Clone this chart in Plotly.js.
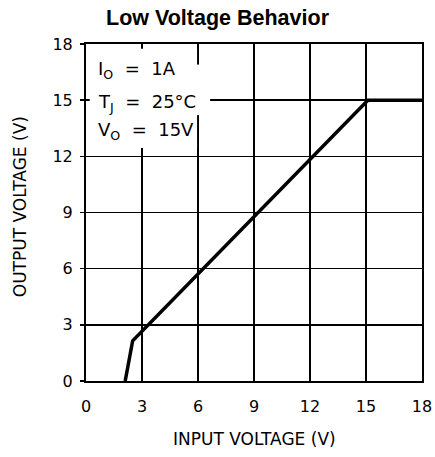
<!DOCTYPE html>
<html>
<head>
<script src="https://cdn.plot.ly/plotly-3.0.1.min.js"></script>
<style>html,body{margin:0;padding:0;background:#fff;}#chart{width:435px;height:457px;}</style>
</head>
<body>
<div id="chart"></div>
<script>
var inputVoltage = [2.1, 2.5, 15.1, 18];
var outputVoltage = [0, 2.15, 15, 15];
var tickVals = [0, 3, 6, 9, 12, 15, 18];
var tickText = ["0", "3", "6", "9", "12", "15", "18"];
var conditionLines = ["I<sub>O</sub>  =  1A", "T<sub>J</sub>  =  25°C", "V<sub>O</sub>  =  15V"];

var font = "DejaVu Sans, Liberation Sans, sans-serif";
var trace = {
  x: inputVoltage, y: outputVoltage, mode: "lines", type: "scatter",
  line: {color: "#000", width: 3.5}, hoverinfo: "skip", showlegend: false
};
var axisCommon = {
  range: [0, 18], tickvals: tickVals, ticktext: tickText,
  showgrid: true, gridcolor: "#000", gridwidth: 1.5,
  showline: true, linecolor: "#000", linewidth: 2, mirror: true,
  zeroline: false, fixedrange: true,
  tickfont: {family: font, size: 16, color: "#000"}
};
var condY = [0.922, 0.826, 0.742];
var annotations = conditionLines.map(function (t, i) {
  return {
    xref: "paper", yref: "paper", x: 0.03, y: condY[i], xanchor: "left", yanchor: "middle",
    align: "left", showarrow: false, text: t,
    font: {family: font, size: 18, color: "#000"}
  };
});
annotations.push({
  xref: "paper", yref: "paper", x: 0.5, y: -0.173, xanchor: "center", yanchor: "middle",
  showarrow: false, text: "INPUT VOLTAGE (V)", font: {family: font, size: 17, color: "#000"}
});
annotations.push({
  xref: "paper", yref: "paper", x: -0.196, y: 0.516, xanchor: "center", yanchor: "middle",
  textangle: -90, showarrow: false, text: "OUTPUT VOLTAGE (V)", font: {family: font, size: 17, color: "#000"}
});

var layout = {
  width: 435, height: 457,
  margin: {l: 86, r: 13, t: 44, b: 76},
  paper_bgcolor: "#fff", plot_bgcolor: "#fff",
  title: {text: "<b>Low Voltage Behavior</b>", font: {family: "Liberation Sans, Arial, sans-serif", size: 21.5, color: "#000"}, x: 0.5, xanchor: "center", y: 0.961, yanchor: "middle"},
  xaxis: Object.assign({}, axisCommon, {ticks: "", ticklabelstandoff: 10}),
  yaxis: Object.assign({}, axisCommon, {ticks: "outside", ticklen: 4, tickcolor: "#000", tickwidth: 1.5, ticklabelstandoff: 4}),
  shapes: [
    {type: "rect", xref: "x", yref: "y", x0: 0.2, x1: 5.95, y0: 12.45, y1: 17.75, layer: "above", fillcolor: "#fff", line: {width: 0}},
    {type: "rect", xref: "x", yref: "y", x0: 5.9, x1: 6.65, y0: 14.2, y1: 16.9, layer: "above", fillcolor: "#fff", line: {width: 0}}
  ],
  annotations: annotations
};
Plotly.newPlot("chart", [trace], layout, {displayModeBar: false, staticPlot: true});
</script>
</body>
</html>
